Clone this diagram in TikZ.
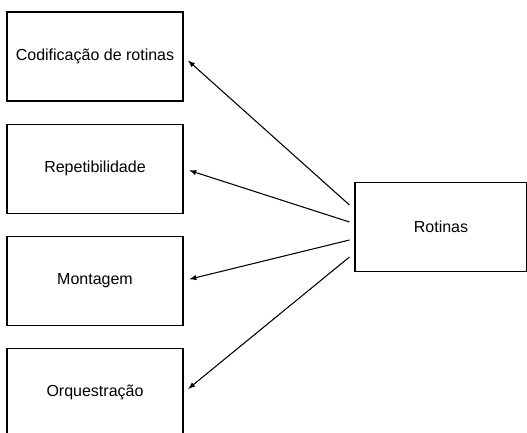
\documentclass[tikz,border=0pt]{standalone}
\usepackage{fontspec}
\setmainfont{Liberation Sans}
\usetikzlibrary{arrows,positioning}

\begin{document}
\begin{tikzpicture}[x=0.75pt,y=-0.75pt,line width=0.8pt]
\tikzset{block/.style={rectangle,draw,minimum width=132pt,minimum height=66.75pt,font=\fontsize{12}{14}\selectfont}}
\useasboundingbox (0,0) rectangle (527,432);

\node [block] (a) at (95,56.5) {Codificação de rotinas};
\node [block, below=16.5pt of a] (b) {Repetibilidade};
\node [block, below=16.5pt of b] (c) {Montagem};
\node [block, below=16.5pt of c] (d) {Orquestração};
\node [block, minimum width=129pt] (r) at (441,227) {Rotinas};

\begin{scope}[->,>=latex,shorten >=4.5pt]
\foreach \n/\dy in {a/16.5,b/3.75,c/-9.75,d/-22.5}{%
\draw ([xshift=-3.75pt,yshift=\dy pt]r.west) -- (\n.east) ;}
\end{scope}
\end{tikzpicture}
\end{document}
